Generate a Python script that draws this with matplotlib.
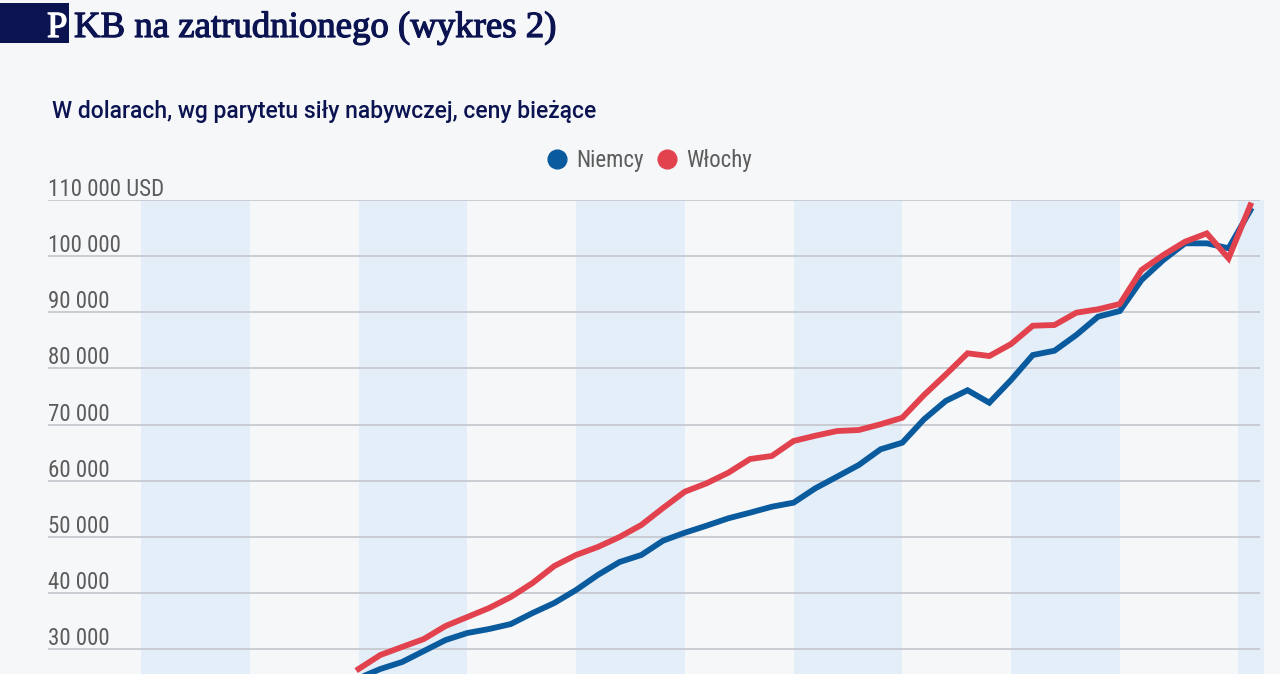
import matplotlib
matplotlib.use("Agg")
import matplotlib.pyplot as plt
from matplotlib.lines import Line2D
from matplotlib.patches import Rectangle
from matplotlib.transforms import ScaledTranslation
import matplotlib.patheffects as pe

years = list(range(1980, 2022))
niemcy = [24800, 26440, 27680, 29640, 31600, 32850, 33560, 34450, 36410, 38200,
          40510, 43190, 45500, 46750, 49300, 50720, 51970, 53290, 54290, 55350,
          56070, 58630, 60700, 62790, 65580, 66760, 70930, 74200, 76100, 73880,
          77930, 82380, 83150, 85950, 89210, 90220, 95750, 99310, 102280, 102280,
          101400, 108150]
wlochy = [26440, 28930, 30360, 31780, 34100, 35700, 37300, 39270, 41760, 44790,
          46750, 48180, 49960, 52100, 55130, 58030, 59520, 61410, 63850, 64390,
          67060, 68000, 68840, 69020, 70040, 71210, 75260, 78900, 82690, 82200,
          84340, 87600, 87730, 89920, 90530, 91470, 97530, 100200, 102570, 104050,
          99610, 109050]
series_names = ["Niemcy", "Włochy"]
y_ticks = [30000, 40000, 50000, 60000, 70000, 80000, 90000, 100000, 110000]
y_labels = ["30 000", "40 000", "50 000", "60 000", "70 000", "80 000",
            "90 000", "100 000", "110 000 USD"]

title_first = "P"
title_rest = "KB na zatrudnionego (wykres 2)"
subtitle = "W dolarach, wg parytetu siły nabywczej, ceny bieżące"

BLUE = "#0a5a9e"
RED = "#e2424d"
BG = "#f6f7f9"
BAND = "#e4eef8"
GRID = "#c9cdd2"
NAVY = "#0b1350"
GRAY = "#5c5c5c"

SANS = ["Roboto Condensed", "Liberation Sans Narrow", "DejaVu Sans"]
SUB = ["Roboto", "DejaVu Sans"]
SERIF = ["Liberation Serif", "DejaVu Serif"]

W, H = 1280, 674
fig = plt.figure(figsize=(W / 100, H / 100), dpi=100, facecolor=BG)

def fx(px):
    return px / W

def fy(py):
    return 1 - py / H

ax = fig.add_axes([fx(48), 0, fx(1264) - fx(48), 1 - 200 / H])
ax.set_facecolor(BG)
x0, x1 = 1965.72, 2021.63
ax.set_xlim(x0, x1)
ax.set_ylim(25546, 110000)
for s in ax.spines.values():
    s.set_visible(False)
ax.set_xticks([])
ax.set_yticks([])

bands = [(1970, 1975), (1980, 1985), (1990, 1995), (2000, 2005), (2010, 2015), (2020.42, 2021.63)]
for a, b in bands:
    ax.axvspan(a, b, color=BAND, lw=0, zorder=0)

ax.hlines(y_ticks, x0, 2021.45, color=GRID, lw=1.4, zorder=1)

off = ScaledTranslation(0, 4 / 100, fig.dpi_scale_trans)
for v, lab in zip(y_ticks, y_labels):
    ax.text(0, v, lab, transform=ax.get_yaxis_transform() + off, ha="left",
            va="baseline", fontsize=16.5, color=GRAY, family=SANS, zorder=3)

ax.plot(years, niemcy, color=BLUE, lw=4.2, zorder=4, solid_joinstyle="miter")
ax.plot(years, wlochy, color=RED, lw=4.2, zorder=5, solid_joinstyle="miter")

handles = [Line2D([], [], marker="o", ls="none", color=BLUE, markersize=13.5),
           Line2D([], [], marker="o", ls="none", color=RED, markersize=13.5)]
leg = fig.legend(handles, series_names, loc="center", bbox_to_anchor=(fx(649), fy(161)),
                 ncol=2, frameon=False, handletextpad=0.35, columnspacing=0.5,
                 handlelength=1.0, prop={"family": SANS, "size": 16.5})
for t in leg.get_texts():
    t.set_color(GRAY)

fig.patches.append(Rectangle((0, fy(43)), fx(69), fy(3) - fy(43), transform=fig.transFigure,
                             facecolor=NAVY, edgecolor="none"))
thick_w = [pe.withStroke(linewidth=0.9, foreground="white")]
thick_n = [pe.withStroke(linewidth=0.9, foreground=NAVY)]
fig.text(fx(47), fy(37), title_first, color="white", family=SERIF, fontsize=26.5,
         ha="left", va="baseline", path_effects=thick_w)
fig.text(fx(74), fy(37), title_rest, color=NAVY, family=SERIF, fontsize=26.5,
         ha="left", va="baseline", path_effects=thick_n)
fig.text(fx(52), fy(118), subtitle, color=NAVY, family=SUB, fontsize=16.5,
         fontweight="medium", ha="left", va="baseline")

fig.savefig("out.png", dpi=100, facecolor=BG)
